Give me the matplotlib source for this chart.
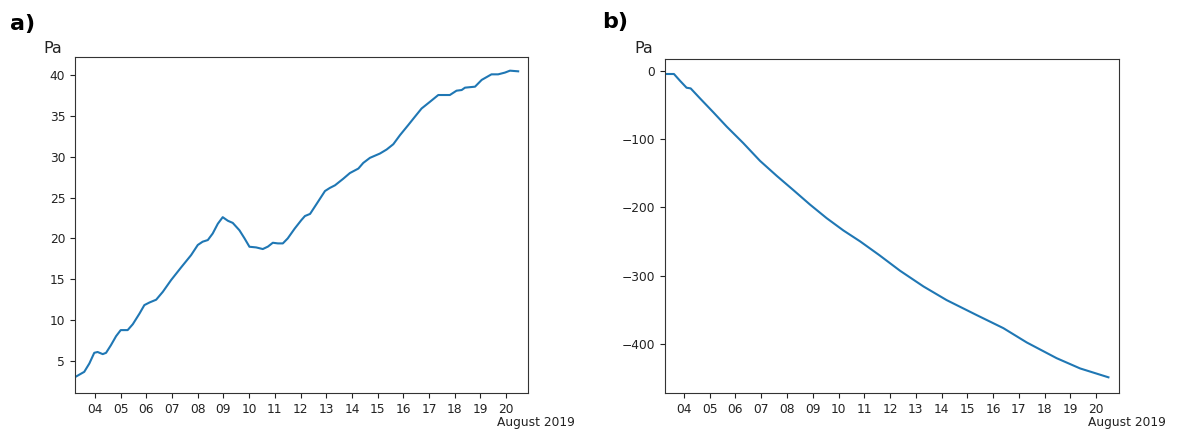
import matplotlib
matplotlib.use("Agg")
import matplotlib.pyplot as plt
import matplotlib.dates as mdates
import pandas as pd

# ---- data (day of August 2019, value in Pa) ----
days_a = [3.24, 3.58, 3.78, 3.97, 4.10, 4.30, 4.43, 4.62, 4.82, 5.00, 5.27, 5.47,
          5.73, 5.92, 6.12, 6.38, 6.64, 6.96, 7.35, 7.74, 8.00, 8.19, 8.39, 8.58,
          8.78, 8.97, 9.17, 9.36, 9.62, 9.82, 10.01, 10.27, 10.53, 10.73, 10.92,
          11.12, 11.31, 11.50, 11.77, 12.03, 12.17, 12.37, 12.63, 12.95, 13.14,
          13.34, 13.66, 13.92, 14.25, 14.44, 14.70, 15.09, 15.35, 15.61, 15.87,
          16.19, 16.45, 16.71, 17.04, 17.36, 17.81, 18.07, 18.27, 18.40, 18.79,
          19.05, 19.43, 19.69, 19.95, 20.15, 20.47]
pa_a = [3.06, 3.67, 4.7, 6.0, 6.1, 5.84, 6.0, 6.94, 8.04, 8.78, 8.78, 9.5,
        10.8, 11.84, 12.16, 12.5, 13.47, 14.9, 16.45, 17.96, 19.2, 19.6, 19.8, 20.6,
        21.8, 22.6, 22.16, 21.9, 21.0, 20.0, 18.98, 18.9, 18.7, 19.0, 19.47,
        19.39, 19.39, 20.0, 21.2, 22.24, 22.74, 23.0, 24.25, 25.8, 26.18,
        26.5, 27.3, 28.0, 28.55, 29.24, 29.86, 30.39, 30.88, 31.53, 32.64,
        33.87, 34.89, 35.9, 36.73, 37.55, 37.55, 38.08, 38.16, 38.45, 38.57,
        39.4, 40.08, 40.08, 40.29, 40.53, 40.45]

days_b = [3.26, 3.61, 3.85, 4.10, 4.26, 4.62, 5.14, 5.66, 6.30, 6.95, 7.60, 8.25,
          8.89, 9.54, 10.19, 10.84, 11.58, 12.39, 13.30, 14.20, 15.37, 16.40,
          17.31, 18.47, 19.38, 20.48]
pa_b = [-4.9, -4.9, -15, -25, -26, -40.5, -61, -82, -106, -132, -154, -175,
        -196, -216, -234, -250, -270, -293, -316, -336, -358, -377,
        -398, -421, -436, -449]

offset_label = "August 2019"
panel_labels = ["a)", "b)"]
unit_label = "Pa"


def to_dates(days):
    return pd.Timestamp("2019-08-01") + pd.to_timedelta([d - 1 for d in days], unit="D")


def day_date(d):
    return pd.Timestamp("2019-08-01") + pd.to_timedelta(d - 1, unit="D")


fig = plt.figure(figsize=(11.78, 4.30), dpi=100)
ax_a = fig.add_axes([0.0637, 0.0860, 0.3846, 0.7814])
ax_b = fig.add_axes([0.5645, 0.0860, 0.3854, 0.7767])

panels = [
    (ax_a, days_a, pa_a, (3.222, 20.856), (1.08, 42.2), [5, 10, 15, 20, 25, 30, 35, 40]),
    (ax_b, days_b, pa_b, (3.262, 20.89), (-472, 17), [-400, -300, -200, -100, 0]),
]

for ax, dd, vv, xl, yl, yt in panels:
    ax.plot(to_dates(dd), vv, color="#1f77b4", lw=1.5)
    ax.set_xlim(day_date(xl[0]), day_date(xl[1]))
    ax.set_ylim(*yl)
    ax.set_yticks(yt)
    ax.xaxis.set_major_locator(mdates.DayLocator())
    ax.xaxis.set_major_formatter(mdates.DateFormatter("%d"))
    ax.tick_params(labelsize=8.8, colors="#222222")
    for s in ax.spines.values():
        s.set_color("#333333")
    ax.text(1.017, -0.088, offset_label, transform=ax.transAxes,
            ha="center", va="center", fontsize=8.8, color="#222222")

ax_a.text(-0.0486, 1.026, unit_label, transform=ax_a.transAxes,
          ha="center", va="center", fontsize=11.5, color="#222222")
ax_b.text(-0.0478, 1.031, unit_label, transform=ax_b.transAxes,
          ha="center", va="center", fontsize=11.5, color="#222222")

fig.text(0.0085, 0.944, panel_labels[0], ha="left", va="center",
         fontsize=16, fontweight="bold", family="DejaVu Sans")
fig.text(0.5108, 0.9477, panel_labels[1], ha="left", va="center",
         fontsize=16, fontweight="bold", family="DejaVu Sans")

fig.savefig("out.png", dpi=100)
